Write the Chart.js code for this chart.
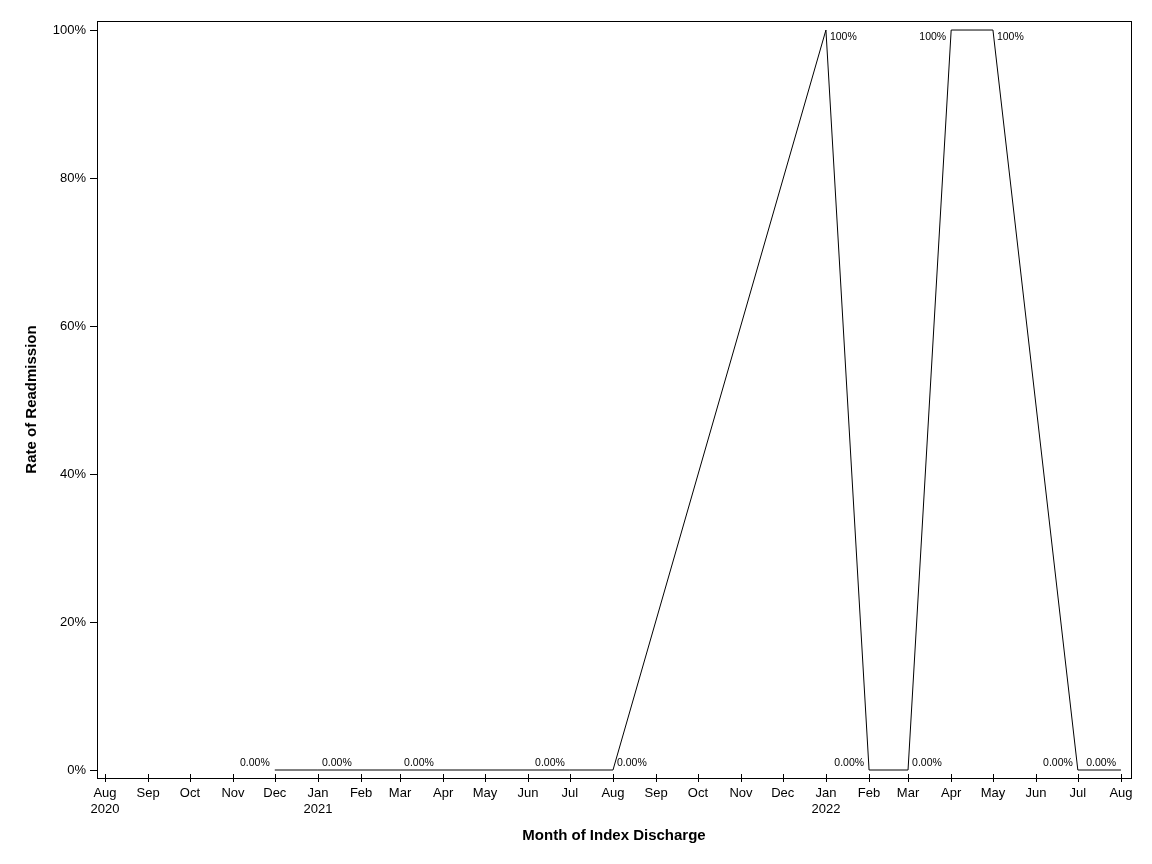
<!DOCTYPE html>
<html>
<head>
<meta charset="utf-8">
<script src="https://cdn.jsdelivr.net/npm/chart.js@4/dist/chart.umd.min.js"></script>
<style>
  html, body { margin: 0; padding: 0; background: #fff; }
  #wrap { width: 1152px; height: 864px; }
</style>
</head>
<body>
<div id="wrap"><canvas id="chart"></canvas></div>
<script>
// months that have a value (yyyy-mm) and the readmission rate, in %
const months = ["2020-12", "2021-01", "2021-03", "2021-07", "2021-08", "2022-01",
                "2022-02", "2022-03", "2022-04", "2022-05", "2022-07", "2022-08"];
const rates = [0, 0, 0, 0, 0, 100, 0, 0, 100, 100, 0, 0];

// axis tick months and y ticks
const tickMonths = ["2020-08", "2020-09", "2020-10", "2020-11", "2020-12", "2021-01",
                    "2021-02", "2021-03", "2021-04", "2021-05", "2021-06", "2021-07",
                    "2021-08", "2021-09", "2021-10", "2021-11", "2021-12", "2022-01",
                    "2022-02", "2022-03", "2022-04", "2022-05", "2022-06", "2022-07", "2022-08"];
const monthNames = ["Jan", "Feb", "Mar", "Apr", "May", "Jun", "Jul", "Aug", "Sep", "Oct", "Nov", "Dec"];
const yTicks = [0, 20, 40, 60, 80, 100];

// which side of the point each data label sits on (style only)
const labelSide = ["left", "right", "right", "left", "right", "right",
                   "left", "right", "left", "right", "left", "left"];

const FONT = "'Liberation Sans', Arial, sans-serif";

// days since the first tick month, so the axis is proportional to time
const start = Date.UTC(2020, 7, 1);
function toDay(ym) {
  const p = ym.split("-");
  return (Date.UTC(+p[0], +p[1] - 1, 1) - start) / 86400000;
}

const points = months.map((m, i) => ({ x: toDay(m), y: rates[i] }));

// frame round the plot area, x ticks crossing the axis line
const framePlugin = {
  id: "frame",
  afterDraw(chart) {
    const ctx = chart.ctx;
    const a = chart.chartArea;
    const xs = chart.scales.x;
    ctx.save();
    ctx.strokeStyle = "#000";
    ctx.lineWidth = 1;
    ctx.strokeRect(Math.round(a.left) + 0.5, Math.round(a.top) + 0.5,
                   Math.round(a.right - a.left), Math.round(a.bottom - a.top));
    ctx.beginPath();
    tickMonths.forEach(m => {
      const px = Math.round(xs.getPixelForValue(toDay(m))) + 0.5;
      ctx.moveTo(px, a.bottom - 4);
      ctx.lineTo(px, a.bottom + 4);
    });
    ctx.stroke();
    ctx.restore();
  }
};

// value labels beside each point
const labelPlugin = {
  id: "pointLabels",
  afterDatasetsDraw(chart) {
    const ctx = chart.ctx;
    const meta = chart.getDatasetMeta(0);
    ctx.save();
    ctx.font = "10.5px " + FONT;
    ctx.fillStyle = "#000";
    meta.data.forEach((pt, i) => {
      const v = rates[i];
      const txt = v === 0 ? "0.00%" : v + "%";
      const left = labelSide[i] === "left";
      ctx.textAlign = left ? "right" : "left";
      ctx.textBaseline = v === 0 ? "bottom" : "top";
      const x = pt.x + (left ? -5 : 4);
      const y = v === 0 ? pt.y - 2 : pt.y + 2;
      ctx.fillText(txt, x, y);
    });
    ctx.restore();
  }
};

new Chart(document.getElementById("chart"), {
  type: "line",
  data: {
    datasets: [{
      data: points,
      borderColor: "#000",
      borderWidth: 1,
      pointRadius: 0,
      tension: 0,
      fill: false
    }]
  },
  options: {
    responsive: true,
    maintainAspectRatio: false,
    animation: false,
    layout: { padding: { top: 21, right: 21, left: 0, bottom: 0 } },
    plugins: {
      legend: { display: false },
      tooltip: { enabled: false }
    },
    scales: {
      x: {
        type: "linear",
        min: -5.75,
        max: 737.2,
        afterFit(scale) { scale.height = 86; },
        afterBuildTicks(scale) {
          scale.ticks = tickMonths.map(m => ({ value: toDay(m) }));
        },
        border: { display: false },
        grid: { display: false, drawTicks: false },
        ticks: {
          autoSkip: false,
          maxRotation: 0,
          padding: 8,
          color: "#000",
          font: { family: FONT, size: 13 },
          callback(value, index) {
            const p = tickMonths[index].split("-");
            const name = monthNames[+p[1] - 1];
            if (index === 0 || p[1] === "01") return [name, p[0]];
            return name;
          }
        },
        title: {
          display: true,
          text: "Month of Index Discharge",
          color: "#000",
          font: { family: FONT, size: 15, weight: "bold" },
          padding: { top: 0, bottom: 19 }
        }
      },
      y: {
        min: -1.08,
        max: 101.22,
        afterFit(scale) { scale.width = 97; },
        afterBuildTicks(scale) {
          scale.ticks = yTicks.map(v => ({ value: v }));
        },
        border: { display: false },
        grid: {
          drawOnChartArea: false,
          drawTicks: true,
          tickLength: 7,
          color: "#000"
        },
        ticks: {
          padding: 4,
          color: "#000",
          font: { family: FONT, size: 13 },
          callback(v) { return v + "%"; }
        },
        title: {
          display: true,
          text: "Rate of Readmission",
          color: "#000",
          font: { family: FONT, size: 15, weight: "bold" },
          padding: { top: 23, bottom: 0 }
        }
      }
    }
  },
  plugins: [framePlugin, labelPlugin]
});
</script>
</body>
</html>
